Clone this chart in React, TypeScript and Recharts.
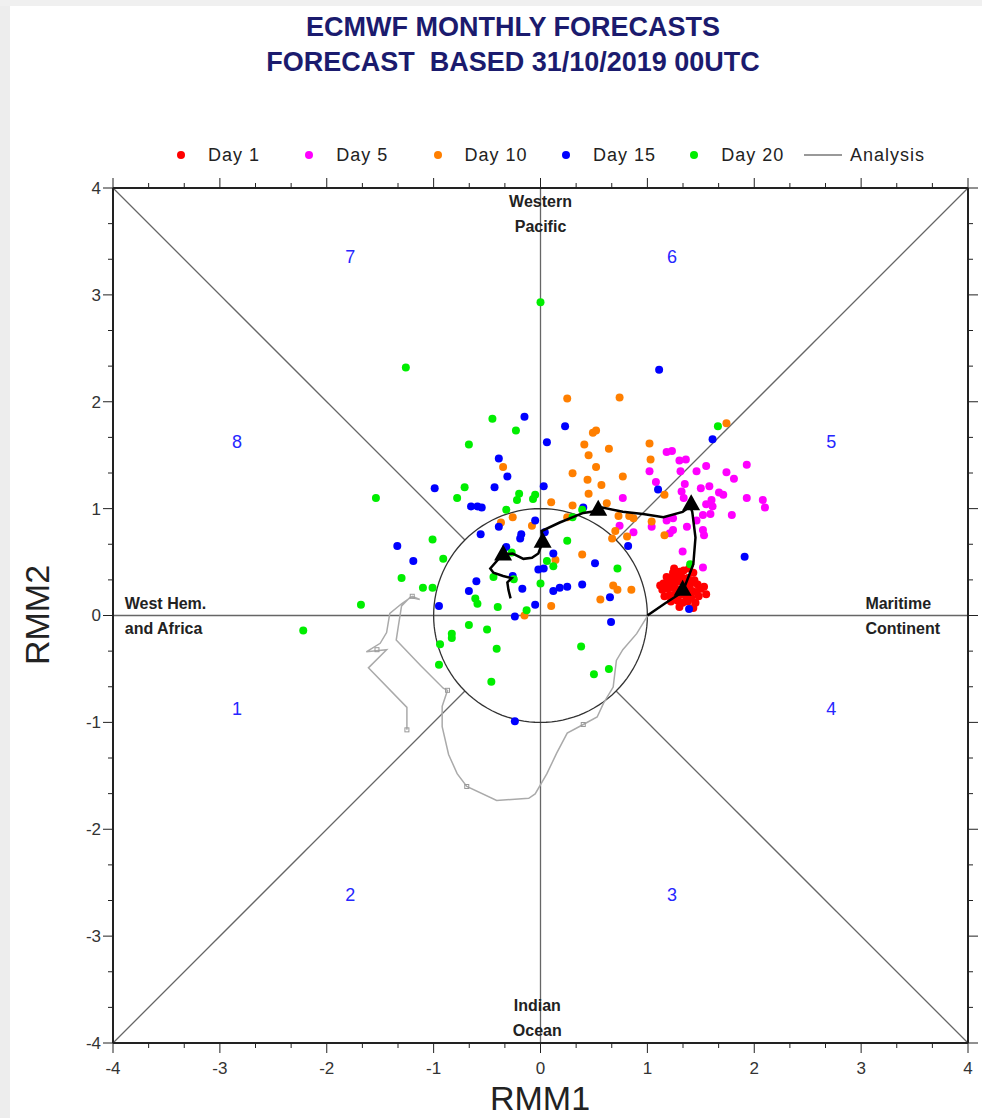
import React from 'react';
import { ScatterChart, Scatter, XAxis, YAxis, ReferenceLine } from 'recharts';

type Pt = { x: number; y: number };
const pts = (a: number[][]): Pt[] => a.map(([x, y]) => ({ x, y }));

// ensemble members (RMM1, RMM2)
const day1 = pts([
  [1.24, 0.40], [1.30, 0.41], [1.34, 0.42], [1.43, 0.40], [1.18, 0.36], [1.22, 0.35], [1.27, 0.37],
  [1.32, 0.36], [1.38, 0.35], [1.44, 0.33], [1.15, 0.30], [1.20, 0.30], [1.25, 0.31], [1.29, 0.32],
  [1.35, 0.30], [1.40, 0.29], [1.47, 0.29], [1.53, 0.27], [1.14, 0.24], [1.19, 0.25], [1.23, 0.26],
  [1.27, 0.25], [1.33, 0.25], [1.37, 0.24], [1.42, 0.23], [1.46, 0.22], [1.50, 0.25], [1.16, 0.18],
  [1.21, 0.19], [1.26, 0.20], [1.30, 0.19], [1.36, 0.18], [1.41, 0.17], [1.48, 0.18], [1.22, 0.13],
  [1.28, 0.14], [1.33, 0.12], [1.38, 0.13], [1.45, 0.12], [1.30, 0.08], [1.55, 0.20], [1.43, 0.07],
  [1.25, 0.44], [1.39, 0.44], [1.12, 0.28],
]);

const day5 = pts([
  [1.18, 1.53], [1.23, 1.54], [1.30, 1.45], [1.36, 1.46], [1.02, 1.35], [1.31, 1.35], [1.46, 1.35],
  [1.55, 1.40], [1.74, 1.34], [1.93, 1.41], [1.81, 1.28], [1.08, 1.25], [1.35, 1.23], [1.32, 1.16],
  [1.50, 1.19], [1.58, 1.21], [1.67, 1.15], [1.71, 1.13], [1.60, 1.08], [1.93, 1.10], [2.08, 1.08],
  [2.10, 1.01], [1.61, 1.02], [1.52, 0.94], [1.59, 0.95], [1.46, 0.89], [1.79, 0.94], [1.24, 0.91],
  [1.18, 0.89], [1.04, 0.83], [0.87, 0.78], [1.37, 0.83], [1.52, 0.80], [1.53, 0.75], [1.24, 0.80],
  [1.21, 0.77], [1.33, 0.60], [1.52, 0.45], [0.77, 1.10], [0.74, 0.84], [1.34, 1.10], [1.55, 1.04],
]);

const day10 = pts([
  [0.25, 2.03], [0.74, 2.04], [1.74, 1.80], [0.49, 1.71], [0.52, 1.73], [0.41, 1.60], [0.64, 1.56],
  [1.02, 1.61], [0.45, 1.50], [1.03, 1.46], [0.52, 1.39], [0.30, 1.33], [0.77, 1.30], [0.44, 1.27],
  [0.57, 1.22], [0.45, 1.14], [1.16, 1.13], [0.10, 1.06], [0.30, 1.03], [0.62, 1.05], [0.73, 0.93],
  [0.83, 0.93], [-0.35, 1.39], [-0.26, 0.92], [-0.37, 0.87], [-0.08, 0.84], [0.25, 0.92], [0.70, 0.79],
  [0.81, 0.74], [1.04, 0.88], [1.16, 0.75], [0.39, 0.57], [0.14, 0.52], [0.68, 0.28], [0.72, 0.24],
  [0.85, 0.24], [0.56, 0.15], [0.10, 0.09], [-0.15, 0.00], [0.87, 0.91], [0.67, 0.72],
]);

const day15 = pts([
  [1.11, 2.30], [-0.15, 1.86], [0.23, 1.77], [0.06, 1.62], [-0.39, 1.47], [-0.31, 1.30], [-0.43, 1.20],
  [-0.99, 1.19], [0.03, 1.21], [-0.65, 1.02], [-0.59, 1.02], [-0.55, 1.01], [-0.39, 0.83], [-0.56, 0.76],
  [-0.18, 0.76], [-0.19, 0.72], [-1.34, 0.65], [-1.19, 0.51], [-0.32, 0.64], [0.04, 0.78], [-0.05, 0.89],
  [-0.60, 0.32], [-0.67, 0.23], [-0.26, 0.37], [-0.17, 0.25], [-0.02, 0.43], [0.03, 0.44], [-0.05, 0.10],
  [-0.95, 0.09], [-0.24, -0.01], [0.66, -0.06], [-0.24, -0.99], [0.12, 0.58], [0.51, 0.49], [0.39, 0.29],
  [0.25, 0.27], [0.18, 0.26], [0.12, 0.23], [0.65, 0.17], [0.82, 0.65], [1.39, 0.06], [1.61, 1.65],
  [1.10, 1.18], [1.91, 0.55], [0.40, 1.01],
]);

const day20 = pts([
  [0.00, 2.93], [-1.26, 2.32], [-1.54, 1.10], [-1.68, 0.10], [-2.22, -0.14], [-0.45, 1.84], [-0.67, 1.60],
  [-0.23, 1.73], [-0.71, 1.20], [-0.78, 1.10], [-0.20, 1.14], [-0.22, 1.08], [-0.05, 1.13], [-0.07, 1.09],
  [-0.32, 0.99], [-1.01, 0.71], [-0.91, 0.53], [-1.30, 0.35], [-1.10, 0.26], [-1.01, 0.26], [-0.61, 0.16],
  [-0.59, 0.11], [-0.40, 0.08], [-0.44, 0.36], [-0.25, 0.34], [-0.27, 0.59], [0.06, 0.51], [0.12, 0.46],
  [0.00, 0.30], [-0.13, 0.05], [-0.67, -0.09], [-0.50, -0.13], [-0.83, -0.17], [-0.83, -0.21], [-0.94, -0.27],
  [-0.41, -0.31], [-0.95, -0.46], [-0.46, -0.62], [0.38, -0.29], [0.50, -0.55], [0.64, -0.50], [0.39, 0.99],
  [0.30, 0.92], [0.25, 0.70], [0.72, 0.44], [1.40, 0.48], [1.66, 1.77],
]);

// ensemble mean track and its 5-day markers
const meanTrack = pts([
  [1.00, 0.00], [1.16, 0.11], [1.33, 0.22], [1.43, 0.48], [1.45, 0.73], [1.42, 0.97], [1.40, 1.02],
  [1.33, 0.97], [1.15, 0.92], [0.96, 0.95], [0.77, 0.97], [0.58, 1.01], [0.54, 0.98], [0.40, 0.96],
  [0.18, 0.87], [0.01, 0.79], [0.02, 0.69], [-0.02, 0.58], [-0.08, 0.54], [-0.16, 0.53], [-0.26, 0.58],
  [-0.35, 0.57], [-0.40, 0.52], [-0.47, 0.44], [-0.44, 0.40], [-0.35, 0.37], [-0.27, 0.35], [-0.31, 0.31],
  [-0.30, 0.24], [-0.28, 0.16],
]);
const meanMarkers = pts([[1.33, 0.24], [1.41, 1.04], [0.54, 0.99], [0.02, 0.69], [-0.35, 0.57]]);

// analysis (past 40 days)
const analysis = pts([
  [-1.25, -1.07], [-1.25, -0.86], [-1.61, -0.49], [-1.44, -0.32], [-1.63, -0.34], [-1.50, -0.26],
  [-1.44, -0.16], [-1.41, 0.02], [-1.30, 0.11], [-1.20, 0.18], [-1.13, 0.15], [-1.22, 0.17], [-1.30, 0.09],
  [-1.33, -0.10], [-1.35, -0.23], [-1.12, -0.47], [-0.91, -0.68], [-0.87, -0.70], [-0.92, -0.85],
  [-0.92, -1.04], [-0.86, -1.30], [-0.78, -1.48], [-0.69, -1.60], [-0.41, -1.73], [-0.11, -1.71],
  [-0.05, -1.67], [0.06, -1.48], [0.15, -1.29], [0.25, -1.10], [0.40, -1.02], [0.53, -0.95], [0.59, -0.82],
  [0.68, -0.67], [0.71, -0.42], [0.77, -0.32], [0.90, -0.17], [1.01, 0.01],
]);
const analysisMarkers = pts([[-1.25, -1.07], [-1.53, -0.32], [-1.20, 0.18], [-0.87, -0.70], [-0.69, -1.60], [0.40, -1.02]]);

const phaseLabels = [
  { x: -2.84, y: -0.87, text: '1' }, { x: -1.78, y: -2.61, text: '2' }, { x: 1.23, y: -2.61, text: '3' },
  { x: 2.72, y: -0.87, text: '4' }, { x: 2.72, y: 1.63, text: '5' }, { x: 1.23, y: 3.36, text: '6' },
  { x: -1.78, y: 3.36, text: '7' }, { x: -2.84, y: 1.63, text: '8' },
];
const regionLabels = [
  { x: 0, y: 3.87, text: 'Western', anchor: 'middle' }, { x: 0, y: 3.64, text: 'Pacific', anchor: 'middle' },
  { x: -0.03, y: -3.65, text: 'Indian', anchor: 'middle' }, { x: -0.03, y: -3.88, text: 'Ocean', anchor: 'middle' },
  { x: -3.89, y: 0.11, text: 'West Hem.', anchor: 'start' }, { x: -3.89, y: -0.12, text: 'and Africa', anchor: 'start' },
  { x: 3.04, y: 0.11, text: 'Maritime', anchor: 'start' }, { x: 3.04, y: -0.12, text: 'Continent', anchor: 'start' },
];

const legendItems = [
  { label: 'Day 1', color: '#ff0000' }, { label: 'Day 5', color: '#ff00ff' }, { label: 'Day 10', color: '#ff7f00' },
  { label: 'Day 15', color: '#0000ff' }, { label: 'Day 20', color: '#00ee00' },
];

// unit amplitude circle (reference geometry, not data)
const unitCircle: Pt[] = Array.from({ length: 121 }, (_, i) => ({
  x: Math.cos((i * 3 * Math.PI) / 180),
  y: Math.sin((i * 3 * Math.PI) / 180),
}));
const frameTicks = Array.from({ length: 25 }, (_, i) => -4 + i / 3);
const D = Math.SQRT1_2;

const FONT = '"Liberation Sans", Arial, Helvetica, sans-serif';
const AX = { xAxisId: 'b', yAxisId: 'l' } as const;

const Empty = () => <g />;
const dot = (color: string) => (p: any) => <circle cx={p.cx} cy={p.cy} r={4} fill={color} />;
const tri = (p: any) => (
  <polygon points={`${p.cx},${p.cy - 10} ${p.cx - 9},${p.cy + 6} ${p.cx + 9},${p.cy + 6}`} fill="#000" />
);
const sq = (p: any) => <rect x={p.cx - 2} y={p.cy - 2} width={4} height={4} fill="none" stroke="#999" strokeWidth={1} />;

const frameTick = (side: 'b' | 't' | 'l' | 'r') => (props: any) => {
  const { x, y, payload } = props;
  const v = payload.value as number;
  const major = Math.abs(v - Math.round(v)) < 1e-6;
  const len = major ? 10 : 5;
  const lbl = String(Math.round(v));
  const st = { stroke: '#222', strokeWidth: 1 };
  if (side === 'b')
    return (
      <g>
        <line x1={x} y1={y} x2={x} y2={y + len} {...st} />
        {major && <text x={x} y={y + 31} textAnchor="middle" fontSize={17} fill="#333">{lbl}</text>}
      </g>
    );
  if (side === 't') return <line x1={x} y1={y} x2={x} y2={y - len} {...st} />;
  if (side === 'r') return <line x1={x} y1={y} x2={x + len} y2={y} {...st} />;
  return (
    <g>
      <line x1={x} y1={y} x2={x - len} y2={y} {...st} />
      {major && <text x={x - 12} y={y} dy="0.35em" textAnchor="end" fontSize={17} fill="#333">{lbl}</text>}
    </g>
  );
};

export default function App() {
  const axisLine = { stroke: '#222', strokeWidth: 2 };
  const title = { position: 'absolute', left: 0, width: 1026, textAlign: 'center', fontSize: 27, lineHeight: 1, fontWeight: 'bold', color: '#1b1b6e', whiteSpace: 'pre' } as const;
  return (
    <div style={{ position: 'absolute', left: 0, top: 0, width: 982, height: 1118, background: '#fff', fontFamily: FONT }}>
      <div style={{ position: 'absolute', left: 0, top: 0, width: 10, height: 1118, background: '#ededed' }} />
      <div style={{ position: 'absolute', left: 0, top: 0, width: 982, height: 6, background: '#f0f0f0' }} />
      <div style={{ ...title, top: 14 }}>ECMWF MONTHLY FORECASTS</div>
      <div style={{ ...title, top: 49 }}>{'FORECAST  BASED 31/10/2019 00UTC'}</div>

      {legendItems.map((it, i) => (
        <React.Fragment key={it.label}>
          <div style={{ position: 'absolute', left: 177 + i * 128.3, top: 151, width: 8, height: 8, borderRadius: 4, background: it.color }} />
          <div style={{ position: 'absolute', left: 208 + i * 128.3, top: 146, fontSize: 18, lineHeight: 1, letterSpacing: 1, color: '#222' }}>{it.label}</div>
        </React.Fragment>
      ))}
      <div style={{ position: 'absolute', left: 804, top: 154, width: 38, height: 1.5, background: '#999' }} />
      <div style={{ position: 'absolute', left: 850, top: 146, fontSize: 18, lineHeight: 1, letterSpacing: 1, color: '#222' }}>Analysis</div>

      <ScatterChart width={982} height={1118} margin={{ top: 178, right: 0, bottom: 0, left: 0 }} style={{ position: 'absolute', left: 0, top: 0 }}>
        <XAxis xAxisId="b" type="number" dataKey="x" domain={[-4, 4]} ticks={frameTicks} interval={0} height={75}
          axisLine={axisLine} tickLine={false} tickSize={0} tickMargin={0} tick={frameTick('b')} allowDataOverflow />
        <XAxis xAxisId="t" orientation="top" type="number" dataKey="x" domain={[-4, 4]} ticks={frameTicks} interval={0} height={10}
          axisLine={axisLine} tickLine={false} tickSize={0} tickMargin={0} tick={frameTick('t')} allowDataOverflow />
        <YAxis yAxisId="l" type="number" dataKey="y" domain={[-4, 4]} ticks={frameTicks} interval={0} width={113}
          axisLine={axisLine} tickLine={false} tickSize={0} tickMargin={0} tick={frameTick('l')} allowDataOverflow />
        <YAxis yAxisId="r" orientation="right" type="number" dataKey="y" domain={[-4, 4]} ticks={frameTicks} interval={0} width={14}
          axisLine={axisLine} tickLine={false} tickSize={0} tickMargin={0} tick={frameTick('r')} allowDataOverflow />

        <ReferenceLine {...AX} x={0} stroke="#666" strokeWidth={1.3} />
        <ReferenceLine {...AX} y={0} stroke="#666" strokeWidth={1.3} />
        <ReferenceLine {...AX} segment={[{ x: -4, y: -4 }, { x: -D, y: -D }]} stroke="#666" strokeWidth={1.3} />
        <ReferenceLine {...AX} segment={[{ x: 4, y: 4 }, { x: D, y: D }]} stroke="#666" strokeWidth={1.3} />
        <ReferenceLine {...AX} segment={[{ x: -4, y: 4 }, { x: -D, y: D }]} stroke="#666" strokeWidth={1.3} />
        <ReferenceLine {...AX} segment={[{ x: 4, y: -4 }, { x: D, y: -D }]} stroke="#666" strokeWidth={1.3} />

        <Scatter {...AX} data={unitCircle} line={{ stroke: '#333', strokeWidth: 1.3 }} shape={Empty} isAnimationActive={false} />
        <Scatter {...AX} data={analysis} line={{ stroke: '#aaa', strokeWidth: 1.5 }} shape={Empty} isAnimationActive={false} />
        <Scatter {...AX} data={analysisMarkers} shape={sq} isAnimationActive={false} />

        <Scatter {...AX} name="Day 1" data={day1} shape={dot('#ff0000')} isAnimationActive={false} />
        <Scatter {...AX} name="Day 5" data={day5} shape={dot('#ff00ff')} isAnimationActive={false} />
        <Scatter {...AX} name="Day 10" data={day10} shape={dot('#ff7f00')} isAnimationActive={false} />
        <Scatter {...AX} name="Day 15" data={day15} shape={dot('#0000ff')} isAnimationActive={false} />
        <Scatter {...AX} name="Day 20" data={day20} shape={dot('#00ee00')} isAnimationActive={false} />

        <Scatter {...AX} data={meanTrack} line={{ stroke: '#000', strokeWidth: 2.5 }} shape={Empty} isAnimationActive={false} />
        <Scatter {...AX} data={meanMarkers} shape={tri} isAnimationActive={false} />

        <Scatter {...AX} data={phaseLabels} isAnimationActive={false}
          shape={(p: any) => <text x={p.cx} y={p.cy} dy="0.35em" textAnchor="middle" fontSize={18} fill="#2626ff">{p.payload.text}</text>} />
        <Scatter xAxisId="t" yAxisId="r" data={regionLabels} isAnimationActive={false}
          shape={(p: any) => <text x={p.cx} y={p.cy} dy="0.35em" textAnchor={p.payload.anchor} fontSize={16} fontWeight="bold" fill="#222">{p.payload.text}</text>} />
      </ScatterChart>

      <div style={{ position: 'absolute', left: 440, width: 200, top: 1081, textAlign: 'center', fontSize: 34, lineHeight: 1, color: '#222' }}>RMM1</div>
      <div style={{ position: 'absolute', left: 37, top: 615, transform: 'translate(-50%, -50%) rotate(-90deg)', fontSize: 34, lineHeight: 1, color: '#222' }}>RMM2</div>
    </div>
  );
}
